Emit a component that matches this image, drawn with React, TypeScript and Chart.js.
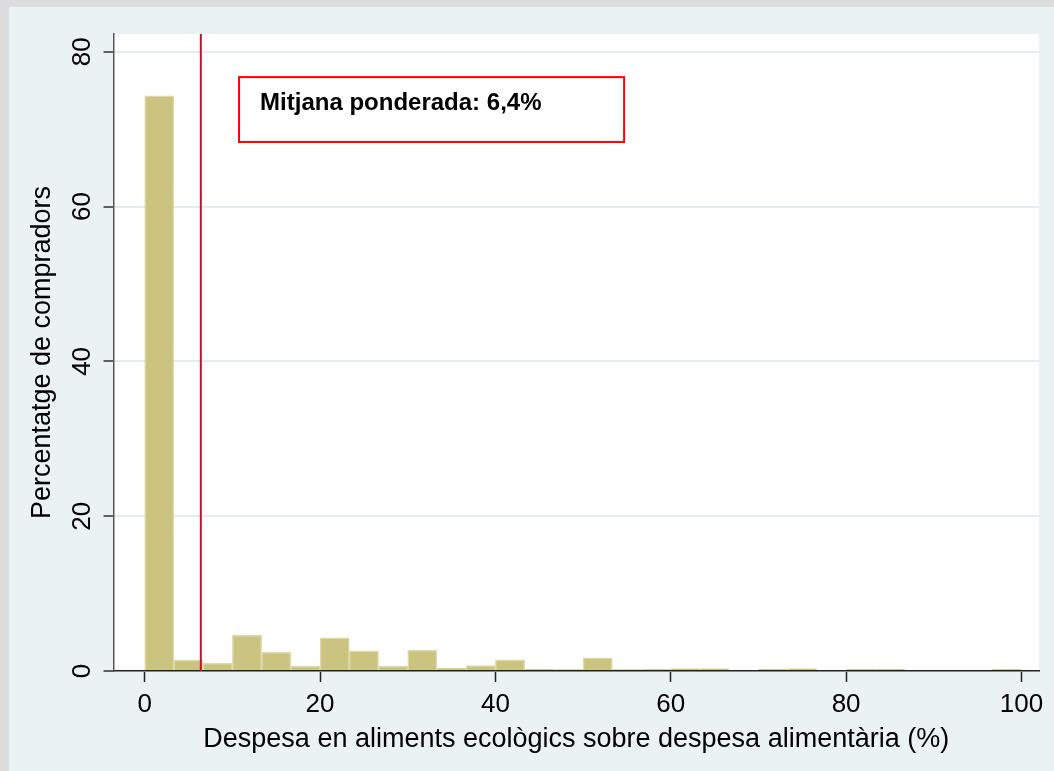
import React, { useEffect, useRef } from "react";
import { Chart, registerables } from "chart.js";

Chart.register(...registerables);

// Histogram bins: 30 bins of width 100/30 from 0 to 100
const binWidth = 100 / 30;
const binStarts: number[] = Array.from({ length: 30 }, (_, i) => i * binWidth);
const percentValues: number[] = [
  74.3, 1.4, 1.0, 4.6, 2.4, 0.65, 4.3, 2.6, 0.65, 2.7,
  0.35, 0.7, 1.45, 0.22, 0.18, 1.7, 0.18, 0.2, 0.3, 0.3,
  0, 0.22, 0.3, 0, 0.22, 0.22, 0, 0, 0, 0.25,
];
const xTicks: number[] = [0, 20, 40, 60, 80, 100];
const yTicks: number[] = [0, 20, 40, 60, 80];
const weightedMean = 6.4;
const annotationText = "Mitjana ponderada: 6,4%";
const xTitle = "Despesa en aliments ecològics sobre despesa alimentària (%)";
const yTitle = "Percentatge de compradors";

const FONT = "'Liberation Sans', Arial, Helvetica, sans-serif";

export default function App() {
  const ref = useRef<HTMLCanvasElement | null>(null);

  useEffect(() => {
    const canvas = ref.current;
    if (!canvas) return;

    const bgPlugin = {
      id: "bgPlugin",
      beforeDraw(chart: any) {
        const { ctx, chartArea } = chart;
        ctx.save();
        ctx.fillStyle = "#eaf2f3";
        ctx.fillRect(0, 0, chart.width, chart.height);
        ctx.fillStyle = "#ffffff";
        ctx.fillRect(
          chartArea.left,
          chartArea.top,
          chartArea.right - chartArea.left,
          chartArea.bottom - chartArea.top
        );
        ctx.restore();
      },
    };

    const overlayPlugin = {
      id: "overlayPlugin",
      afterDatasetsDraw(chart: any) {
        const { ctx, chartArea, scales } = chart;
        const xs = scales.x;
        const ys = scales.y;
        ctx.save();
        // mean line
        const mx = xs.getPixelForValue(weightedMean);
        ctx.strokeStyle = "#c8102e";
        ctx.lineWidth = 2;
        ctx.beginPath();
        ctx.moveTo(mx, chartArea.top);
        ctx.lineTo(mx, chartArea.bottom);
        ctx.stroke();
        // annotation box
        const x0 = xs.getPixelForValue(10.76);
        const x1 = xs.getPixelForValue(54.68);
        const y0 = ys.getPixelForValue(76.73);
        const y1 = ys.getPixelForValue(68.34);
        ctx.fillStyle = "#ffffff";
        ctx.fillRect(x0, y0, x1 - x0, y1 - y0);
        ctx.strokeStyle = "#ff0000";
        ctx.lineWidth = 2;
        ctx.strokeRect(x0, y0, x1 - x0, y1 - y0);
        ctx.fillStyle = "#000000";
        ctx.font = `bold 24px ${FONT}`;
        ctx.textAlign = "left";
        ctx.textBaseline = "middle";
        ctx.fillText(annotationText, xs.getPixelForValue(13.16), ys.getPixelForValue(73.3));
        ctx.restore();
      },
    };

    const chart = new Chart(canvas, {
      type: "bar",
      data: {
        datasets: [
          {
            data: binStarts.map((s, i) => ({ x: s + binWidth / 2, y: percentValues[i] })),
            backgroundColor: "rgb(202,196,128)",
            borderColor: "rgb(222,217,168)",
            borderWidth: 1.5,
            categoryPercentage: 1,
            barPercentage: 1,
          },
        ],
      },
      options: {
        responsive: false,
        animation: false,
        devicePixelRatio: 1,
        layout: { padding: { left: 0, top: 27, right: 15, bottom: 0 } },
        plugins: {
          legend: { display: false },
          tooltip: { enabled: false },
        },
        scales: {
          x: {
            type: "linear",
            min: -3.56,
            max: 102.0,
            offset: false,
            afterBuildTicks: (s: any) => {
              s.ticks = xTicks.map((v) => ({ value: v }));
            },
            afterFit: (s: any) => {
              s.height = 100;
            },
            ticks: {
              font: { family: FONT, size: 26 },
              color: "#000",
              padding: 7,
              maxRotation: 0,
              minRotation: 0,
            },
            grid: {
              offset: false,
              drawOnChartArea: false,
              drawTicks: true,
              tickLength: 11,
              tickColor: "#222",
              tickWidth: 1.5,
            },
            border: { color: "#222", width: 1.5 },
            title: {
              display: true,
              text: xTitle,
              font: { family: FONT, size: 27 },
              color: "#000",
              padding: { top: 0, bottom: 15 },
            },
          },
          y: {
            type: "linear",
            min: 0,
            max: 82.3,
            afterBuildTicks: (s: any) => {
              s.ticks = yTicks.map((v) => ({ value: v }));
            },
            afterFit: (s: any) => {
              s.width = 104.5;
            },
            ticks: {
              font: { family: FONT, size: 26 },
              color: "#000",
              padding: 6,
              minRotation: 90,
              maxRotation: 90,
              crossAlign: "center",
            },
            grid: {
              color: "#e4ecef",
              lineWidth: 2,
              tickLength: 10,
              tickColor: "#333",
              tickWidth: 1.5,
            },
            border: { color: "#555", width: 1.5 },
            title: {
              display: true,
              text: yTitle,
              font: { family: FONT, size: 27 },
              color: "#000",
              padding: { top: 17, bottom: 0 },
            },
          },
        },
      },
      plugins: [bgPlugin, overlayPlugin],
    } as any);

    return () => chart.destroy();
  }, []);

  return (
    <div style={{ position: "fixed", left: 0, top: 0, right: 0, bottom: 0, background: "#dcdcdc" }}>
      <canvas
        ref={ref}
        width={1045}
        height={764}
        style={{ position: "absolute", left: 9, top: 7, width: 1045, height: 764 }}
      />
    </div>
  );
}
